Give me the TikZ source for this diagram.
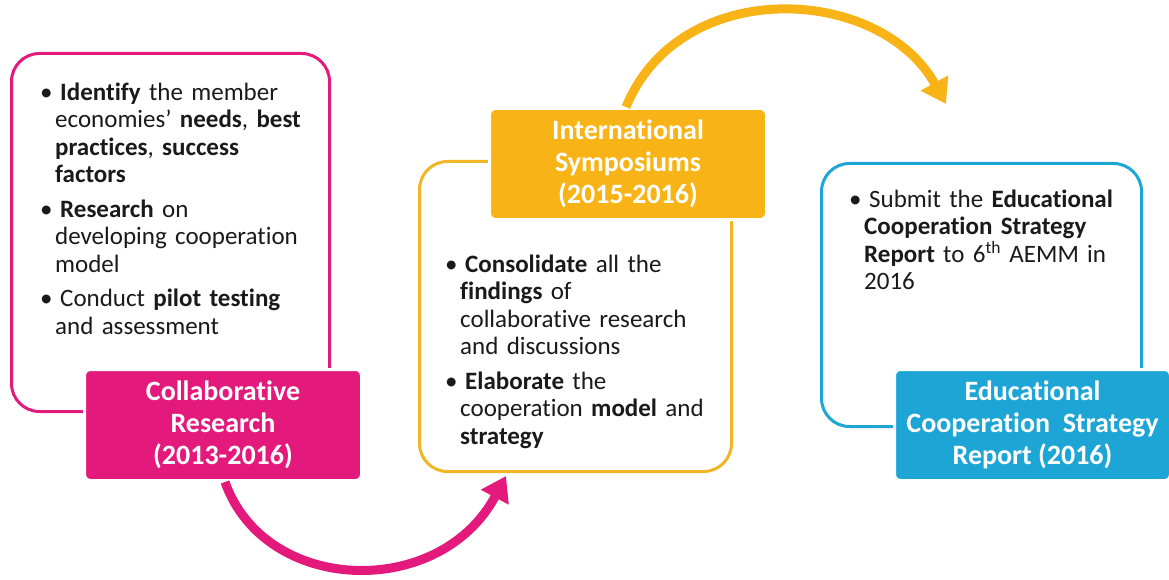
\documentclass[tikz,border=0pt]{standalone}
\usepackage{fontspec}
\setmainfont{Carlito}[Ligatures=NoCommon]
\usetikzlibrary{arrows.meta}
\definecolor{pk}{HTML}{E3197B}
\definecolor{og}{HTML}{F8B416}
\definecolor{ogl}{HTML}{F2B526}
\definecolor{bl}{HTML}{1DA6D5}
\definecolor{tx}{HTML}{1A1A1A}
\newcommand\bitem[2]{\noindent\makebox[15pt][l]{\textbullet}\parbox[t]{#1}{\raggedright\strut\hspace*{5pt}#2\strut}\par}
\tikzset{
  outl/.style={draw=#1, line width=3pt, rounded corners=28pt, fill=white, anchor=north west, inner sep=0pt},
  filbox/.style={fill=#1, draw=white, line width=3pt, rounded corners=6pt, anchor=north west,
    text=white, font=\fontsize{28}{32}\selectfont\bfseries, align=center, inner sep=0pt},
  bodytxt/.style={anchor=north west, inner sep=0pt, text=tx, text width=#1,
    font=\fontsize{25}{27.5}\selectfont, align=left},
  bigarrow/.style={draw=#1, line width=9pt, -{Triangle[length=24pt,width=30pt]}}
}
\begin{document}
\begin{tikzpicture}[x=1pt,y=-1pt]
\useasboundingbox (0,0) rectangle (1169,580);
% outline boxes
\node[outl=pk, minimum width=318pt, minimum height=358pt] (pko) at (10,52) {};
\node[outl=ogl, minimum width=312pt, minimum height=310pt] (ogo) at (418,160) {};
\node[outl=bl, minimum width=320pt, minimum height=263pt] (blo) at (820,162) {};
% body texts
\node[bodytxt=290pt] (pkt) at (40,81) {%
\bitem{270pt}{\textbf{Identify} the member\\economies' \textbf{needs}, \textbf{best}\\\textbf{practices}, \textbf{success}\\\textbf{factors}}\vspace{6pt}
\bitem{270pt}{\textbf{Research} on\\developing cooperation\\model}\vspace{6pt}
\bitem{270pt}{Conduct \textbf{pilot testing}\\and assessment}};
\node[bodytxt=290pt] (ogt) at (445,253) {%
\bitem{270pt}{\textbf{Consolidate} all the\\\textbf{findings} of\\collaborative research\\and discussions}\vspace{6pt}
\bitem{270pt}{\textbf{Elaborate} the\\cooperation \textbf{model} and\\\textbf{strategy}}};
\node[bodytxt=300pt] (blt) at (849,188) {%
\bitem{280pt}{Submit the \textbf{Educational}\\\textbf{Cooperation Strategy}\\\textbf{Report} to 6\textsuperscript{th} AEMM in\\2016}};
% filled title boxes
\node[filbox=pk, minimum width=277pt, minimum height=111pt] (pkf) at (83,368) {Collaborative\\Research\\(2013-2016)};
\node[filbox=og, minimum width=277pt, minimum height=111pt] (ogf) at (488,107) {International\\Symposiums\\(2015-2016)};
\node[filbox=bl, minimum width=276pt, minimum height=111pt] (blf) at (893,368) {Educational\\Cooperation\ \ Strategy\\Report (2016)};
% arrows
\coordinate (pkend) at (506,476);
\coordinate (ogend) at (946,104);
\draw[bigarrow=pk] ([xshift=2pt]pkf.south) .. controls (265,595) and (440,600) .. (pkend);
\draw[bigarrow=og] ([xshift=-2pt]ogf.north) .. controls (680,-25) and (880,-15) .. (ogend);
\end{tikzpicture}
\end{document}
